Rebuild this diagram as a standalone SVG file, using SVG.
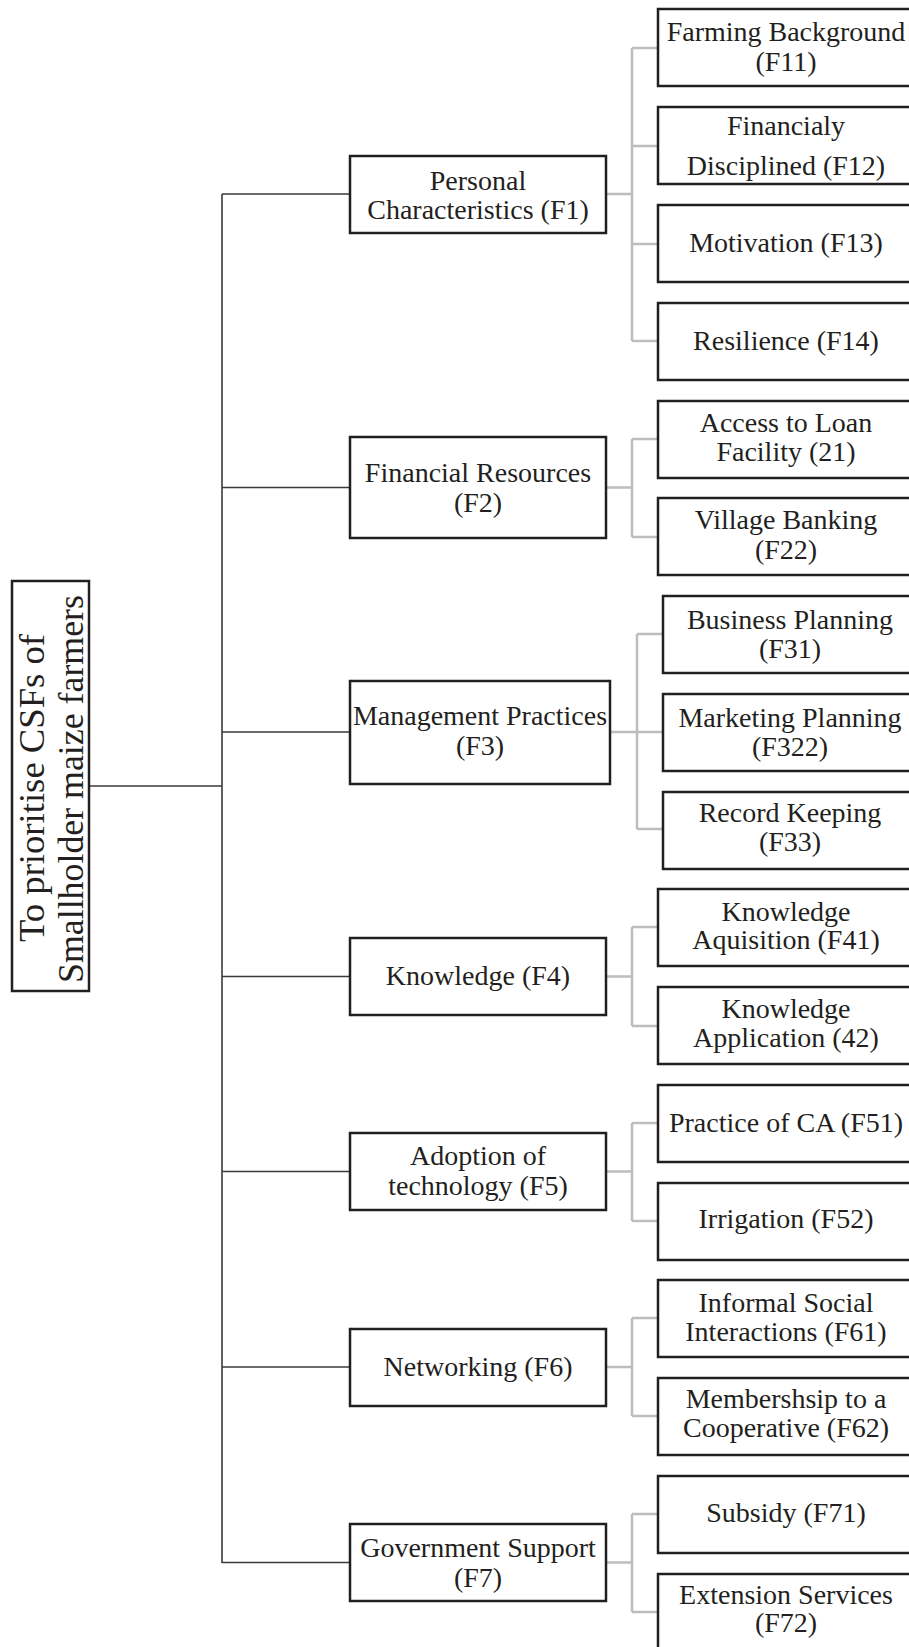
<svg xmlns="http://www.w3.org/2000/svg" width="909" height="1647" viewBox="0 0 909 1647">
<style>
.box{fill:#fff;stroke:#231f20;stroke-width:2.5}
.t{font-family:"Liberation Serif","Times New Roman",serif;font-size:28px;fill:#231f20;text-anchor:middle}
.rt{font-family:"Liberation Serif","Times New Roman",serif;font-size:36px;fill:#231f20;text-anchor:middle}
.main{fill:none;stroke:#3a3a3a;stroke-width:1.6}
.sub{fill:none;stroke:#bcbdc0;stroke-width:2.5}
</style>
<rect width="909" height="1647" fill="#fff"/>
<g id="connectors">
<path class="main" d="M90 786H222M222 194V1563M222 194H350M222 487.5H350M222 732H350M222 976.5H350M222 1171.5H350M222 1367H350M222 1562.5H350"/>
<path class="sub" d="M607 194H632M632 48V341M632 48H657M632 146H657M632 244H657M632 341H657"/>
<path class="sub" d="M607 487.5H632M632 439V537M632 439H657M632 537H657"/>
<path class="sub" d="M611 732H637M637 634V829M637 634H662M637 732H662M637 829H662"/>
<path class="sub" d="M607 976.5H632M632 927V1026M632 927H657M632 1026H657"/>
<path class="sub" d="M607 1171.5H632M632 1123V1221M632 1123H657M632 1221H657"/>
<path class="sub" d="M607 1367H632M632 1318V1416M632 1318H657M632 1416H657"/>
<path class="sub" d="M607 1562.5H632M632 1514V1612M632 1514H657M632 1612H657"/>
</g>
<g id="root">
<rect class="box" x="12" y="581" width="77" height="410"/>
<text class="rt" transform="translate(44,788) rotate(-90)" textLength="308" lengthAdjust="spacingAndGlyphs">To prioritise CSFs of</text>
<text class="rt" transform="translate(83,789) rotate(-90)" textLength="388" lengthAdjust="spacingAndGlyphs">Smallholder maize farmers</text>
</g>
<g id="F1"><rect class="box" x="350" y="156" width="256" height="77"/><text class="t" x="478" y="190">Personal</text><text class="t" x="478" y="219">Characteristics (F1)</text></g>
<g id="F2"><rect class="box" x="350" y="437" width="256" height="101"/><text class="t" x="478" y="482">Financial Resources</text><text class="t" x="478" y="512">(F2)</text></g>
<g id="F3"><rect class="box" x="350" y="681" width="260" height="103"/><text class="t" x="480" y="725">Management Practices</text><text class="t" x="480" y="755">(F3)</text></g>
<g id="F4"><rect class="box" x="350" y="938" width="256" height="77"/><text class="t" x="478" y="985">Knowledge (F4)</text></g>
<g id="F5"><rect class="box" x="350" y="1133" width="256" height="77"/><text class="t" x="478" y="1165">Adoption of</text><text class="t" x="478" y="1195">technology (F5)</text></g>
<g id="F6"><rect class="box" x="350" y="1329" width="256" height="77"/><text class="t" x="478" y="1376">Networking (F6)</text></g>
<g id="F7"><rect class="box" x="350" y="1524" width="256" height="77"/><text class="t" x="478" y="1557">Government Support</text><text class="t" x="478" y="1587">(F7)</text></g>
<g id="F11"><rect class="box" x="658" y="9" width="256" height="77"/><text class="t" x="786" y="41">Farming Background</text><text class="t" x="786" y="71">(F11)</text></g>
<g id="F12"><rect class="box" x="658" y="107" width="256" height="77"/><text class="t" x="786" y="135">Financialy</text><text class="t" x="786" y="175">Disciplined (F12)</text></g>
<g id="F13"><rect class="box" x="658" y="205" width="256" height="77"/><text class="t" x="786" y="252">Motivation (F13)</text></g>
<g id="F14"><rect class="box" x="658" y="303" width="256" height="77"/><text class="t" x="786" y="350">Resilience (F14)</text></g>
<g id="F21"><rect class="box" x="658" y="401" width="256" height="77"/><text class="t" x="786" y="432">Access to Loan</text><text class="t" x="786" y="461">Facility (21)</text></g>
<g id="F22"><rect class="box" x="658" y="498" width="256" height="77"/><text class="t" x="786" y="529">Village Banking</text><text class="t" x="786" y="559">(F22)</text></g>
<g id="F31"><rect class="box" x="663" y="596" width="256" height="77"/><text class="t" x="790" y="629">Business Planning</text><text class="t" x="790" y="658">(F31)</text></g>
<g id="F32"><rect class="box" x="663" y="694" width="256" height="77"/><text class="t" x="790" y="727">Marketing Planning</text><text class="t" x="790" y="756">(F322)</text></g>
<g id="F33"><rect class="box" x="663" y="792" width="256" height="77"/><text class="t" x="790" y="822">Record Keeping</text><text class="t" x="790" y="851">(F33)</text></g>
<g id="F41"><rect class="box" x="658" y="889" width="256" height="77"/><text class="t" x="786" y="921">Knowledge</text><text class="t" x="786" y="949">Aquisition (F41)</text></g>
<g id="F42"><rect class="box" x="658" y="987" width="256" height="77"/><text class="t" x="786" y="1018">Knowledge</text><text class="t" x="786" y="1047">Application (42)</text></g>
<g id="F51"><rect class="box" x="658" y="1085" width="256" height="77"/><text class="t" x="786" y="1132">Practice of CA (F51)</text></g>
<g id="F52"><rect class="box" x="658" y="1183" width="256" height="77"/><text class="t" x="786" y="1228">Irrigation (F52)</text></g>
<g id="F61"><rect class="box" x="658" y="1280" width="256" height="77"/><text class="t" x="786" y="1312">Informal Social</text><text class="t" x="786" y="1341">Interactions (F61)</text></g>
<g id="F62"><rect class="box" x="658" y="1378" width="256" height="77"/><text class="t" x="786" y="1408">Membershsip to a</text><text class="t" x="786" y="1437">Cooperative (F62)</text></g>
<g id="F71"><rect class="box" x="658" y="1476" width="256" height="77"/><text class="t" x="786" y="1522">Subsidy (F71)</text></g>
<g id="F72"><rect class="box" x="658" y="1574" width="256" height="77"/><text class="t" x="786" y="1604">Extension Services</text><text class="t" x="786" y="1632">(F72)</text></g>
</svg>
